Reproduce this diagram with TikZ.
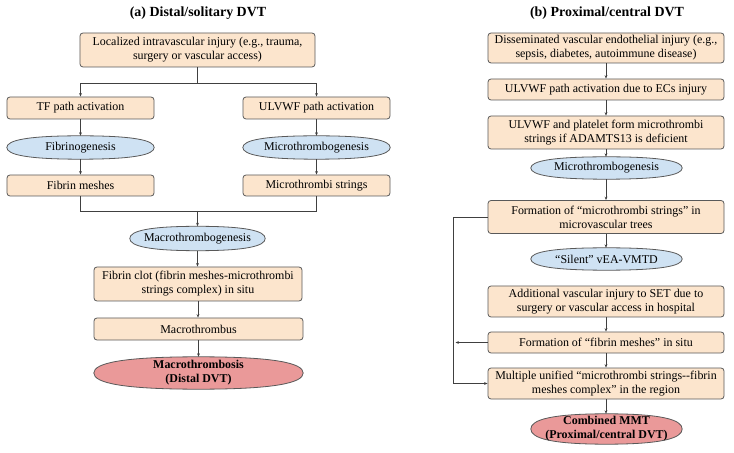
\documentclass[tikz,border=0pt]{standalone}
\usepackage{fontspec}
\setmainfont{Liberation Serif}
\usetikzlibrary{arrows.meta,calc,backgrounds}
\definecolor{peach}{HTML}{FCE5CD}
\definecolor{bluef}{HTML}{CFE2F3}
\definecolor{redf}{HTML}{EA9999}
\definecolor{bordc}{HTML}{595959}
\definecolor{linec}{HTML}{404040}
\newcommand{\fsz}{\fontsize{12}{14.2}\selectfont}
\newcommand{\ovalbg}[2]{\path[draw=bordc,fill=#2,line width=0.8bp] (#1.west) .. controls ($(#1.west)!0.62!(#1.north west)$) and ($(#1.north)!0.72!(#1.north west)$) .. (#1.north) .. controls ($(#1.north)!0.72!(#1.north east)$) and ($(#1.east)!0.62!(#1.north east)$) .. (#1.east) .. controls ($(#1.east)!0.62!(#1.south east)$) and ($(#1.south)!0.72!(#1.south east)$) .. (#1.south) .. controls ($(#1.south)!0.72!(#1.south west)$) and ($(#1.west)!0.62!(#1.south west)$) .. (#1.west) -- cycle;}
\tikzset{
  stepbox/.style={rectangle, draw=bordc, fill=peach, rounded corners=3bp, line width=0.8bp, inner sep=0pt, align=center, font=\fsz},
  ovalnode/.style={rectangle, draw=none, inner sep=0pt, align=center, font=\fsz},
  titlenode/.style={font=\fontsize{14}{16}\selectfont\bfseries, inner sep=0pt},
  conn/.style={draw=linec, line width=0.7bp},
  arr/.style={conn, -{Stealth[length=3.5bp,width=2.8bp]}},
}
\begin{document}
\begin{tikzpicture}[x=1bp,y=-1bp]
\useasboundingbox (0,0) rectangle (734,453);
% ---------- left panel ----------
\node[titlenode] (T1) at (198,13) {(a) Distal/solitary DVT};
\node[stepbox, minimum width=235bp, minimum height=34bp] (L1) at (197.5,50) {Localized intravascular injury (e.g., trauma,\\ surgery or vascular access)};
\node[stepbox, minimum width=147bp, minimum height=22bp] (TF) at (80.5,108) {TF path activation};
\node[stepbox, minimum width=147bp, minimum height=22bp] (UL) at (316.5,108) {ULVWF path activation};
\node[ovalnode, minimum width=147bp, minimum height=23bp] (Fib) at (80.5,147.5) {Fibrinogenesis};
\node[ovalnode, minimum width=147bp, minimum height=23bp] (Mic) at (316.5,147.5) {Microthrombogenesis};
\node[stepbox, minimum width=147bp, minimum height=21bp] (FM) at (80.5,185.5) {Fibrin meshes};
\node[stepbox, minimum width=147bp, minimum height=21bp] (MS) at (316.5,185.5) {Microthrombi strings};
\node[ovalnode, minimum width=135bp, minimum height=24bp] (Mac) at (197.5,238.5) {Macrothrombogenesis};
\node[stepbox, minimum width=208bp, minimum height=34bp] (Clot) at (198,284) {Fibrin clot (fibrin meshes-microthrombi\\ strings complex) in situ};
\node[stepbox, minimum width=209bp, minimum height=22bp] (Mbus) at (198.5,329) {Macrothrombus};
\node[ovalnode, minimum width=209bp, minimum height=32bp, font=\fsz\bfseries] (Mosis) at (198.5,373) {Macrothrombosis\\ (Distal DVT)};
% ---------- right panel ----------
\node[titlenode] (T2) at (607,13) {(b) Proximal/central DVT};
\node[stepbox, minimum width=236bp, minimum height=30bp] (R1) at (606,48) {Disseminated vascular endothelial injury (e.g.,\\ sepsis, diabetes, autoimmune disease)};
\node[stepbox, minimum width=236bp, minimum height=21bp] (R2) at (606,89.5) {ULVWF path activation due to ECs injury};
\node[stepbox, minimum width=236bp, minimum height=33bp] (R3) at (606,132.5) {ULVWF and platelet form microthrombi\\ strings if ADAMTS13 is deficient};
\node[ovalnode, minimum width=151bp, minimum height=22bp] (R4) at (606.5,168) {Microthrombogenesis};
\node[stepbox, minimum width=236bp, minimum height=33bp] (R5) at (606,217) {Formation of “microthrombi strings” in\\ microvascular trees};
\node[ovalnode, minimum width=151bp, minimum height=22bp] (R6) at (606.5,259) {“Silent” vEA-VMTD};
\node[stepbox, minimum width=236bp, minimum height=31bp] (R7) at (606,301.5) {Additional vascular injury to SET due to\\ surgery or vascular access in hospital};
\node[stepbox, minimum width=236bp, minimum height=21bp] (R8) at (606,342.5) {Formation of “fibrin meshes” in situ};
\node[stepbox, minimum width=236bp, minimum height=31bp] (R9) at (606,383.5) {Multiple unified “microthrombi strings-{}-fibrin\\ meshes complex” in the region};
\node[ovalnode, minimum width=151bp, minimum height=30bp, font=\fsz\bfseries] (R10) at (606.5,429) {Combined MMT\\ (Proximal/central DVT)};
% ---------- oval outlines ----------
\begin{scope}[on background layer]
\ovalbg{Fib}{bluef}
\ovalbg{Mic}{bluef}
\ovalbg{Mac}{bluef}
\ovalbg{Mosis}{redf}
\ovalbg{R4}{bluef}
\ovalbg{R6}{bluef}
\ovalbg{R10}{redf}
\end{scope}
% ---------- left connectors ----------
\coordinate (sp) at (197.5,83);
\draw[conn] (L1.south) -- (sp);
\draw[arr] (sp) -| (TF.north);
\draw[arr] (sp) -| (UL.north);
\draw[arr] (TF.south) -- (Fib.north);
\draw[arr] (UL.south) -- (Mic.north);
\draw[arr] (Fib.south) -- (FM.north);
\draw[arr] (Mic.south) -- (MS.north);
\coordinate (jn) at (197.5,211);
\draw[conn] (FM.south) |- (jn);
\draw[conn] (MS.south) |- (jn);
\draw[arr] (jn) -- (Mac.north);
\draw[arr] (Mac.south) -- (Clot.north -| Mac.south);
\draw[arr] (Clot.south) -- (Mbus.north -| Clot.south);
\draw[arr] (Mbus.south) -- (Mosis.north);
% ---------- right connectors ----------
\draw[arr] (R1.south) -- (R2.north);
\draw[arr] (R2.south) -- (R3.north);
\draw[arr] (R3.south) -- (R4.north -| R3.south);
\draw[arr] (R4.south -| R3.south) -- (R5.north);
\draw[arr] (R5.south) -- (R6.north -| R5.south);
\draw[arr] (R7.south) -- (R8.north);
\draw[arr] (R8.south) -- (R9.north);
\draw[arr] (R9.south) -- (R10.north -| R9.south);
\coordinate (lp) at (453,217);
\coordinate (lq) at (455.5,342.5);
\draw[arr] (R5.west) -- (lp) -- (lp |- R9.west) -- (R9.west);
\draw[arr] (R8.west) -- (lq);
\end{tikzpicture}
\end{document}
